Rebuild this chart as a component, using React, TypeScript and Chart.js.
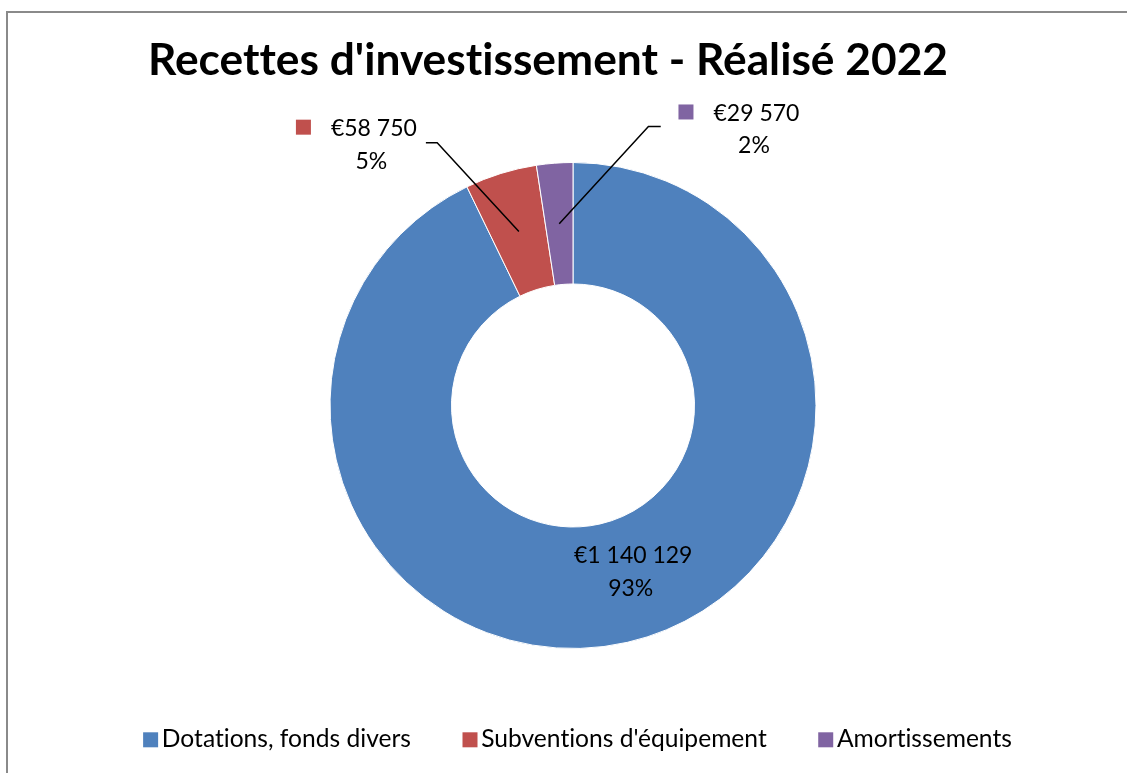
import React, { useEffect, useRef } from "react";
import { Chart, registerables } from "chart.js";

Chart.register(...registerables);

const TITLE = "Recettes d'investissement - Réalisé 2022";
const categories = ["Dotations, fonds divers", "Subventions d'équipement", "Amortissements"];
const values = [1140129, 58750, 29570];
const colors = ["#4F81BD", "#C0504D", "#8064A2"];

const FONT = "Lato, 'Open Sans', sans-serif";

const fmtEuro = (v: number) => "€" + String(v).replace(/\B(?=(\d{3})+(?!\d))/g, " ");

// label layout relative to ring mid-point of each slice (presentation only)
const labelLayout = [
  { dx: 19.4, dy: -19.7, key: false, leader: null as null | number[] },
  { dx: -145, dy: -95.3, key: true, leader: [-81.7, -88.7, -11.3] },
  { dx: 197.2, dy: -102.8, key: true, leader: [89.2, -97.2, 12.3] },
];

const overlayPlugin = {
  id: "overlay",
  afterDraw(chart: any) {
    const ctx: any = chart.ctx;
    const data: number[] = chart.data.datasets[0].data;
    const bg: string[] = chart.data.datasets[0].backgroundColor;
    const labels: string[] = chart.data.labels;
    const total = data.reduce((a, b) => a + b, 0);
    const meta = chart.getDatasetMeta(0);
    ctx.save();
    try {
      ctx.textRendering = "optimizeSpeed";
    } catch (e) {}

    // title
    ctx.fillStyle = "#000";
    ctx.font = `bold 44.3px ${FONT}`;
    ctx.textAlign = "center";
    ctx.textBaseline = "alphabetic";
    ctx.fillText(TITLE, 548, 75);

    // data labels
    const lblFont = `23px ${FONT}`;
    meta.data.forEach((arc: any, i: number) => {
      const p = arc.getProps(["x", "y", "startAngle", "endAngle", "innerRadius", "outerRadius"], true);
      const mid = (p.startAngle + p.endAngle) / 2;
      const r = (p.innerRadius + p.outerRadius) / 2;
      const ax = p.x + Math.cos(mid) * r;
      const ay = p.y + Math.sin(mid) * r;
      const L = labelLayout[i];
      const cx = ax + L.dx;
      const by = ay + L.dy;
      const l1 = fmtEuro(data[i]);
      const l2 = Math.round((data[i] / total) * 100) + "%";
      ctx.font = lblFont;
      ctx.fillStyle = "#000";
      ctx.textAlign = "center";
      ctx.fillText(l1, cx, by);
      ctx.fillText(l2, cx - 2.5, by + 32.5);
      if (L.key) {
        const w = ctx.measureText(l1).width;
        ctx.fillStyle = bg[i];
        ctx.fillRect(cx - w / 2 - 20 - 15, by - 16.5, 15, 15);
      }
      if (L.leader) {
        const [kx, ky, hx] = L.leader;
        ctx.strokeStyle = "#000";
        ctx.lineWidth = 1.5;
        ctx.beginPath();
        ctx.moveTo(ax, ay);
        ctx.lineTo(ax + kx, ay + ky);
        ctx.lineTo(ax + kx + hx, ay + ky);
        ctx.stroke();
      }
    });

    // legend
    ctx.font = `24.6px ${FONT}`;
    ctx.textAlign = "left";
    const box = 15, gapText = 3.7, gapItem = 51.5;
    const widths = labels.map((t) => ctx.measureText(t).width);
    const totalW = widths.reduce((a, w) => a + box + gapText + w, 0) + gapItem * (labels.length - 1);
    let x = 577.5 - totalW / 2;
    const base = 747.3;
    labels.forEach((t, i) => {
      ctx.fillStyle = bg[i];
      ctx.fillRect(x, base - 15, box, box);
      ctx.fillStyle = "#000";
      ctx.fillText(t, x + box + gapText, base);
      x += box + gapText + widths[i] + gapItem;
    });
    ctx.restore();
  },
};

export default function App() {
  const ref = useRef<HTMLCanvasElement>(null);
  useEffect(() => {
    const chart = new Chart(ref.current as HTMLCanvasElement, {
      type: "doughnut",
      data: {
        labels: categories,
        datasets: [
          {
            data: values,
            backgroundColor: colors,
            borderColor: "#ffffff",
            borderWidth: 1,
          },
        ],
      },
      options: {
        responsive: false,
        animation: false,
        cutout: "50%",
        layout: { padding: { top: 162, bottom: 124, left: 200, right: 181 } },
        plugins: {
          legend: { display: false },
          title: { display: false },
          tooltip: { enabled: false },
        },
      },
      plugins: [overlayPlugin],
    });
    return () => chart.destroy();
  }, []);
  return (
    <div style={{ position: "fixed", left: 0, top: 0, width: 1127, height: 773, overflow: "hidden", background: "#fff" }}>
      <div
        style={{
          position: "absolute",
          left: 6,
          top: 11,
          width: 1200,
          height: 900,
          border: "2px solid #8a8a8a",
          boxSizing: "border-box",
        }}
      />
      <canvas ref={ref} width={1127} height={773} style={{ position: "absolute", left: 0, top: 0, width: 1127, height: 773 }} />
    </div>
  );
}
